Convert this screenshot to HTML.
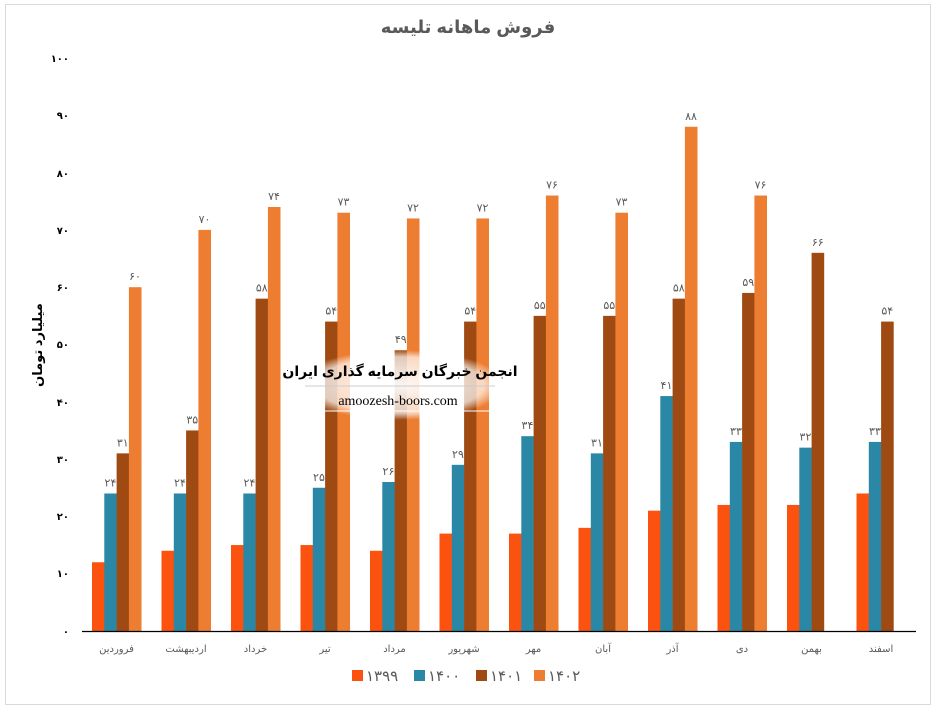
<!DOCTYPE html>
<html><head><meta charset="utf-8"><style>
body{margin:0;background:#fff;}
svg text{font-family:"Liberation Sans","Noto Sans CJK SC","DejaVu Sans",sans-serif;}
</style></head><body>
<svg width="938" height="713" xmlns="http://www.w3.org/2000/svg">
<defs><radialGradient id="wg" cx="0.5" cy="0.5" r="0.5"><stop offset="0" stop-color="#fff" stop-opacity="0.95"/><stop offset="0.8" stop-color="#fff" stop-opacity="0.7"/><stop offset="1" stop-color="#fff" stop-opacity="0"/></radialGradient></defs>
<rect x="5.5" y="4.5" width="925" height="700" fill="#fff" stroke="#d9d9d9"/>
<text x="468" y="33" text-anchor="middle" font-size="18" font-weight="bold" fill="#595959">فروش ماهانه تلیسه</text>
<g font-size="10" font-weight="bold" fill="#000" text-anchor="end">
<text x="69" y="635">۰</text><text x="69" y="577">۱۰</text><text x="69" y="520">۲۰</text><text x="69" y="463">۳۰</text><text x="69" y="406">۴۰</text><text x="69" y="348">۵۰</text><text x="69" y="291">۶۰</text><text x="69" y="234">۷۰</text><text x="69" y="177">۸۰</text><text x="69" y="119">۹۰</text><text x="69" y="62">۱۰۰</text>
</g>
<text transform="translate(42,345) rotate(-90)" text-anchor="middle" font-size="13" font-weight="bold" fill="#000">میلیارد تومان</text>
<g id="bars"></g>
<line x1="82" y1="631.5" x2="916" y2="631.5" stroke="#000" stroke-width="1.3"/>
<g font-size="10" fill="#595959" text-anchor="middle" id="cats"></g>
<g font-size="11" fill="#595959" text-anchor="middle" id="lbls"></g>
<g font-size="15" fill="#595959">
<rect x="352" y="670" width="11" height="11" fill="#fc520f"/><text x="366" y="681">۱۳۹۹</text>
<rect x="414" y="670" width="11" height="11" fill="#2a87a6"/><text x="428" y="681">۱۴۰۰</text>
<rect x="476" y="670" width="11" height="11" fill="#9e4a12"/><text x="490" y="681">۱۴۰۱</text>
<rect x="534" y="670" width="11" height="11" fill="#ed7d31"/><text x="548" y="681">۱۴۰۲</text>
</g>
<rect x="295" y="350" width="210" height="70" fill="url(#wg)"/>
<text x="400" y="376" text-anchor="middle" font-size="14" font-weight="bold" fill="#000">انجمن خبرگان سرمایه گذاری ایران</text>
<line x1="305" y1="386" x2="495" y2="386" stroke="#ccc"/>
<text x="398" y="405" text-anchor="middle" font-size="14" fill="#000" style="font-family:'Liberation Serif',serif">amoozesh-boors.com</text>
<line x1="310" y1="411" x2="490" y2="411" stroke="#fff"/>
</svg>
<script>
const d=[[12,24,31,60],[14,24,35,70],[15,24,58,74],[15,25,54,73],[14,26,49,72],[17,29,54,72],[17,34,55,76],[18,31,55,73],[21,41,58,88],[22,33,59,76],[22,32,66,null],[24,33,54,null]];
const cats=["فروردین","اردیبهشت","خرداد","تیر","مرداد","شهریور","مهر","آبان","آذر","دی","بهمن","اسفند"];
const col=["#fc520f","#2a87a6","#9e4a12","#ed7d31"];
const fa=n=>String(n).replace(/\d/g,c=>"۰۱۲۳۴۵۶۷۸۹"[c]);
const ns="http://www.w3.org/2000/svg";
const B=document.getElementById("bars"),C=document.getElementById("cats"),L=document.getElementById("lbls");
function el(t,a,p,txt){const e=document.createElementNS(ns,t);for(const k in a)e.setAttribute(k,a[k]);if(txt)e.textContent=txt;p.appendChild(e);}
const base=631,sc=5.73,bw=12.3;
d.forEach((g,i)=>{const x0=92+i*69.5;
 g.forEach((v,j)=>{if(v==null)return;const h=v*sc,x=x0+j*bw;
  el("rect",{x:x,y:base-h,width:bw+0.3,height:h,fill:col[j]},B);
  if(j>0)el("text",{x:x+bw/2,y:base-h-7},L,fa(v));});
 el("text",{x:x0+24.5,y:652},C,cats[i]);});
</script>
</body></html>
